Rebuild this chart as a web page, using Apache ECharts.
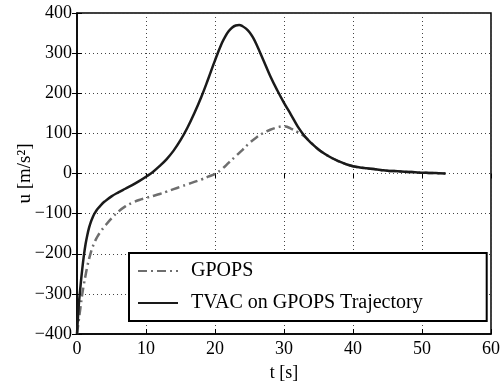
<!DOCTYPE html>
<html>
<head>
<meta charset="utf-8">
<script src="https://cdn.jsdelivr.net/npm/echarts@6/dist/echarts.min.js"></script>
<style>html,body{margin:0;padding:0;background:#fff}#c{width:500px;height:386px}</style>
</head>
<body>
<div id="c"></div>
<script>
const tvacT = [0,0.25,0.5,0.75,1,1.25,1.5,1.75,2,2.25,2.5,2.75,3,3.5,4,5,6,7,8,9,10,11,12,13,14,15,16,17,18,19,20,21,21.5,22,22.5,23,23.5,24,24.5,25,25.5,26,27,28,29,30,31,32,33,34,35,36,37,38,39,40,41,42,43,44,45,46,47,48,49,50,51,52,53.4];
const tvacU = [-400,-330,-282,-240,-204,-175,-153,-135,-121,-110,-101,-94,-88,-78,-70,-57,-47,-38,-29,-19,-8,4,19,36,57,83,114,150,190,235,282,325,342,355,364,369,370,367,361,352,339,322,283,243,208,176,147,117,93,75,60,48,38,30,23,18,15,13,11,9,7,6,5,4,3,2,1.5,1,0];
const gpopsT = [0,0.25,0.5,0.75,1,1.25,1.5,1.75,2,2.25,2.5,2.75,3,3.5,4,5,6,7,8,9,10,11,12,13,14,15,16,17,18,19,20,21,22,23,24,25,26,27,28,29,29.5,30,30.5,31,32,33,34,35,36,37,38,39,40,41,42,43,44,45,46,47,48,49,50,51,52,53.4];
const gpopsU = [-400,-367,-334,-302,-276,-253,-231,-213,-197,-184,-173,-164,-156,-143,-132,-112,-95,-82,-73,-66,-61,-56,-51,-45,-39,-33,-27,-21,-15,-8,-1,11,27,43,59,76,90,101,109,115,117,118,116,112,103,92,75,60,48,38,30,23,18,15,13,11,9,7,6,5,4,3,2,1.5,1,0];
const xTicks = [0,10,20,30,40,50,60];
const yTicks = [-400,-300,-200,-100,0,100,200,300,400];

const FONT = 'Liberation Serif';
const fmt = v => String(v).replace('-', '\u2212');
const pairs = (a, b) => a.map((t, i) => [t, b[i]]);

const chart = echarts.init(document.getElementById('c'), null, {renderer: 'canvas'});
const split = {show: true, lineStyle: {color: '#444', type: [1, 3], width: 1}};
chart.setOption({
  animation: false,
  backgroundColor: '#fff',
  grid: {left: 77, right: 9, top: 13, bottom: 52, outerBoundsMode: 'none', containLabel: false, show: true, borderColor: '#000', borderWidth: 1.5, backgroundColor: 'transparent'},
  xAxis: [{
    type: 'value', min: xTicks[0], max: xTicks[xTicks.length - 1], interval: 10,
    name: 't [s]', nameLocation: 'middle', nameGap: 30,
    nameTextStyle: {fontFamily: FONT, fontSize: 18, color: '#000'},
    axisLine: {show: true, onZero: false, lineStyle: {color: '#000', width: 1.5}},
    axisTick: {show: true, inside: true, length: 5, lineStyle: {color: '#000'}},
    axisLabel: {fontFamily: FONT, fontSize: 18, color: '#000', margin: 6, formatter: fmt},
    splitLine: split
  }, {
    type: 'value', position: 'top', min: 0, max: 60, interval: 10,
    axisLine: {show: false}, axisLabel: {show: false}, splitLine: {show: false},
    axisTick: {show: true, inside: true, length: 5, lineStyle: {color: '#000'}}
  }],
  yAxis: [{
    type: 'value', min: yTicks[0], max: yTicks[yTicks.length - 1], interval: 100,
    name: 'u [m/s\u00b2]', nameLocation: 'middle', nameGap: 42, nameRotate: 90, nameMoveOverlap: false,
    nameTextStyle: {fontFamily: FONT, fontSize: 19, color: '#000'},
    axisLine: {show: true, onZero: false, lineStyle: {color: '#000', width: 1.5}},
    axisTick: {show: true, inside: true, length: 5, lineStyle: {color: '#000'}},
    axisLabel: {fontFamily: FONT, fontSize: 18, color: '#000', margin: 5, formatter: fmt},
    splitLine: split
  }, {
    type: 'value', position: 'right', min: -400, max: 400, interval: 100,
    axisLine: {show: false}, axisLabel: {show: false}, splitLine: {show: false},
    axisTick: {show: true, inside: true, length: 5, lineStyle: {color: '#000'}}
  }],
  legend: {
    orient: 'vertical', left: 129, top: 253,
    padding: [7, 64, 7, 8], itemGap: 10, itemWidth: 40, itemHeight: 14,
    borderColor: '#000', borderWidth: 2, backgroundColor: '#fff',
    itemStyle: {opacity: 0},
    textStyle: {fontFamily: FONT, fontSize: 20, color: '#000', lineHeight: 22, padding: [0, 0, 0, 8]},
    data: ['GPOPS', 'TVAC on GPOPS Trajectory']
  },
  series: [{
    name: 'GPOPS', type: 'line', data: pairs(gpopsT, gpopsU),
    showSymbol: false, symbol: 'none', smooth: 0.4,
    lineStyle: {color: '#6e6e6e', width: 2.5, type: [9, 4, 2, 4]},
    itemStyle: {color: '#6e6e6e'}, z: 3
  }, {
    name: 'TVAC on GPOPS Trajectory', type: 'line', data: pairs(tvacT, tvacU),
    showSymbol: false, symbol: 'none', smooth: 0.4,
    lineStyle: {color: '#1a1a1a', width: 2.5},
    itemStyle: {color: '#1a1a1a'}, z: 4
  }]
});
</script>
</body>
</html>
